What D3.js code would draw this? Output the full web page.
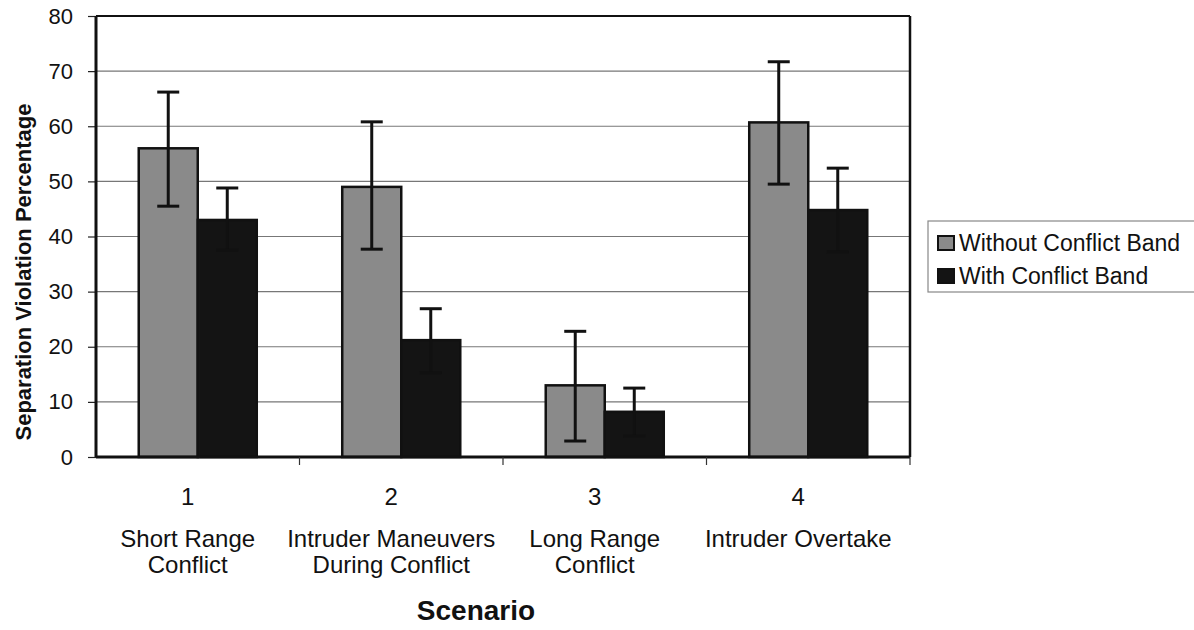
<!DOCTYPE html>
<html>
<head>
<meta charset="utf-8">
<script src="https://cdn.jsdelivr.net/npm/d3@7"></script>
<style>
body{margin:0;background:#fff;}
svg{display:block;font-family:"Liberation Sans",Arial,sans-serif;}
</style>
</head>
<body>
<svg id="c" width="1194" height="630"></svg>
<script>
const scenarioNumbers = ["1","2","3","4"];
const scenarioNames = [["Short Range","Conflict"],["Intruder Maneuvers","During Conflict"],["Long Range","Conflict"],["Intruder Overtake"]];
const seriesNames = ["Without Conflict Band","With Conflict Band"];
const withoutBand = [56, 49, 13, 60.7];
const withBand = [43, 21.2, 8.2, 44.8];
const withoutErrLow = [45.5, 37.7, 2.9, 49.5];
const withoutErrHigh = [66.2, 60.8, 22.8, 71.7];
const withErrLow = [37.5, 15.3, 3.8, 37.2];
const withErrHigh = [48.8, 26.9, 12.5, 52.4];
const yTicks = [0,10,20,30,40,50,60,70,80];

const svg = d3.select("#c");
const L = 96, R = 910, T = 16, B = 457;
const x0 = d3.scaleBand().domain(scenarioNumbers).range([L, R]).paddingInner(0.42).paddingOuter(0.21);
const x1 = d3.scaleBand().domain(seriesNames).range([0, x0.bandwidth()]);
const xc = d3.scaleBand().domain(scenarioNumbers).range([L, R]);
const y = d3.scaleLinear().domain([0, 80]).range([B, T]);
const colors = ["#8a8a8a", "#141414"];

// gridlines
svg.append("g").selectAll("line").data(yTicks.filter(d => d > 0 && d < 80)).join("line")
  .attr("x1", L).attr("x2", R).attr("y1", d => y(d)).attr("y2", d => y(d))
  .attr("stroke", "#777").attr("stroke-width", 1.2);

// y axis
const ya = svg.append("g").attr("transform", `translate(${L},0)`)
  .call(d3.axisLeft(y).tickValues(yTicks).tickSize(8).tickPadding(15));
ya.select(".domain").remove();
ya.selectAll(".tick line").attr("stroke", "#222").attr("stroke-width", 1.2);
ya.selectAll(".tick text").attr("font-size", 22).attr("fill", "#111").attr("font-family", "Liberation Sans, Arial, sans-serif");

// frame
svg.append("line").attr("x1", L).attr("x2", R).attr("y1", T).attr("y2", T).attr("stroke", "#111").attr("stroke-width", 2);
svg.append("line").attr("x1", R).attr("x2", R).attr("y1", T).attr("y2", B).attr("stroke", "#111").attr("stroke-width", 2.5);

// bars
const series = [
  {name: seriesNames[0], vals: withoutBand, lo: withoutErrLow, hi: withoutErrHigh, color: colors[0]},
  {name: seriesNames[1], vals: withBand, lo: withErrLow, hi: withErrHigh, color: colors[1]}
];
series.forEach(s => {
  const g = svg.append("g");
  g.selectAll("rect").data(scenarioNumbers).join("rect")
    .attr("x", d => x0(d) + x1(s.name))
    .attr("width", x1.bandwidth())
    .attr("y", (d,i) => y(s.vals[i]))
    .attr("height", (d,i) => y(0) - y(s.vals[i]))
    .attr("fill", s.color).attr("stroke", "#111").attr("stroke-width", 2.5);
});
// error bars
series.forEach(s => {
  const g = svg.append("g").attr("stroke", "#111").attr("stroke-width", 3);
  scenarioNumbers.forEach((d,i) => {
    const cx = x0(d) + x1(s.name) + x1.bandwidth()/2;
    g.append("line").attr("x1", cx).attr("x2", cx).attr("y1", y(s.lo[i])).attr("y2", y(s.hi[i]));
    g.append("line").attr("x1", cx-11).attr("x2", cx+11).attr("y1", y(s.hi[i])).attr("y2", y(s.hi[i]));
    g.append("line").attr("x1", cx-11).attr("x2", cx+11).attr("y1", y(s.lo[i])).attr("y2", y(s.lo[i]));
  });
});

// axes lines
svg.append("line").attr("x1", L).attr("x2", L).attr("y1", T).attr("y2", B).attr("stroke", "#111").attr("stroke-width", 3);
svg.append("line").attr("x1", L).attr("x2", R).attr("y1", B).attr("y2", B).attr("stroke", "#111").attr("stroke-width", 3);
// category boundary ticks
svg.append("g").selectAll("line").data(scenarioNumbers).join("line")
  .attr("x1", d => xc(d) + xc.bandwidth()).attr("x2", d => xc(d) + xc.bandwidth())
  .attr("y1", B).attr("y2", B + 8).attr("stroke", "#333").attr("stroke-width", 1.2);

// x labels
const xl = svg.append("g").attr("font-size", 24).attr("fill", "#111").attr("text-anchor", "middle");
scenarioNumbers.forEach((d,i) => {
  const cx = xc(d) + xc.bandwidth()/2 - 10;
  xl.append("text").attr("x", cx).attr("y", 505).text(d);
  scenarioNames[i].forEach((line, j) => {
    xl.append("text").attr("x", cx).attr("y", 547 + j*26).text(line);
  });
});

// axis titles
svg.append("text").attr("x", 476).attr("y", 620).attr("text-anchor", "middle")
  .attr("font-size", 28).attr("font-weight", "bold").attr("fill", "#111").text("Scenario");
svg.append("text").attr("transform", "translate(31,272) rotate(-90)").attr("text-anchor", "middle")
  .attr("font-size", 22).attr("font-weight", "bold").attr("fill", "#111").text("Separation Violation Percentage");

// legend
const lg = svg.append("g");
lg.append("rect").attr("x", 928).attr("y", 221).attr("width", 290).attr("height", 71)
  .attr("fill", "#fff").attr("stroke", "#888").attr("stroke-width", 1.2);
seriesNames.forEach((n, i) => {
  const top = 236 + i*33;
  lg.append("rect").attr("x", 938).attr("y", top).attr("width", 16).attr("height", 14)
    .attr("fill", colors[i]).attr("stroke", "#111").attr("stroke-width", 2);
  lg.append("text").attr("x", 959).attr("y", top + 15).attr("font-size", 23).attr("fill", "#111").text(n);
});
</script>
</body>
</html>
